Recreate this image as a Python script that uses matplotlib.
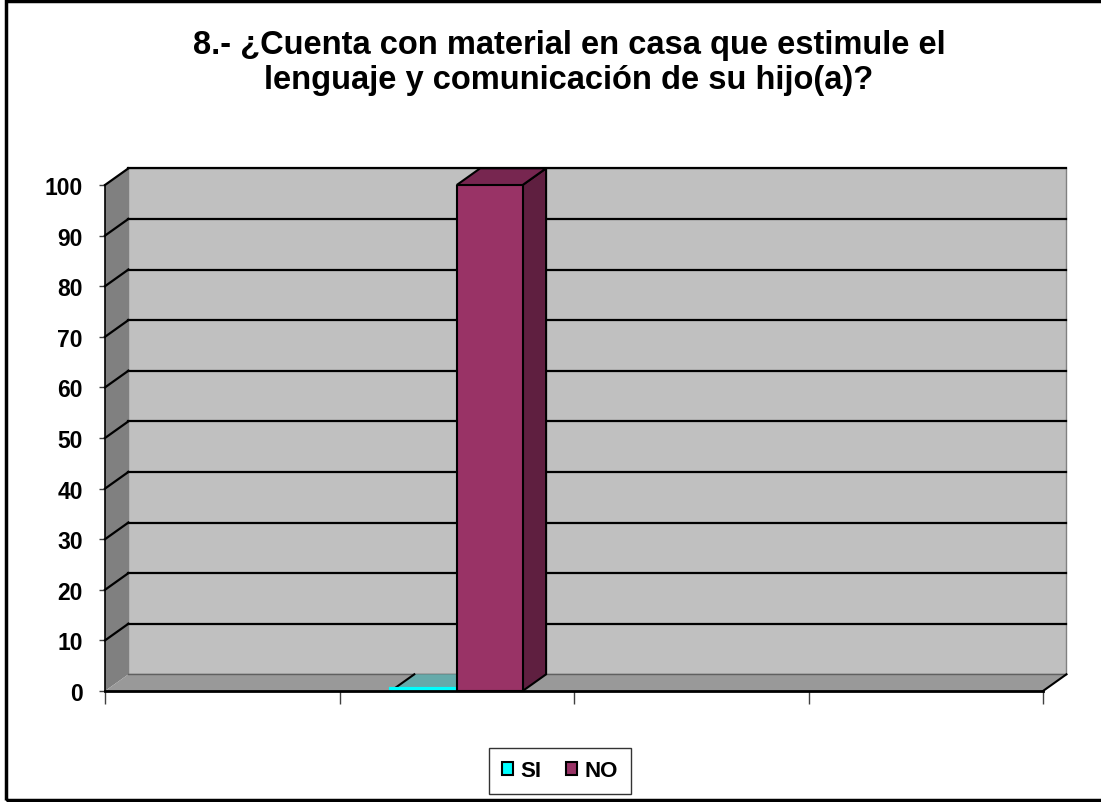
import numpy as np
import matplotlib
matplotlib.use("Agg")
import matplotlib.pyplot as plt
from matplotlib.patches import Polygon, Rectangle

plt.rcParams['font.family'] = ['Liberation Sans', 'DejaVu Sans']

# ---- data ----
categories = ["", "", "", ""]
series_names = ["SI", "NO"]
si_values = [np.nan, 0, np.nan, np.nan]
no_values = [np.nan, 100, np.nan, np.nan]
y_ticks = [0, 10, 20, 30, 40, 50, 60, 70, 80, 90, 100]
title = "8.- ¿Cuenta con material en casa que estimule el\nlenguaje y comunicación de su hijo(a)?"

# ---- style ----
W, H = 1101, 803
fig = plt.figure(figsize=(W / 100, H / 100), dpi=100)
ax = fig.add_axes([105 / W, 1 - 692 / H, (1043 - 105) / W, (692 - 186) / H])
ax.set_xlim(0, len(categories))
ax.set_ylim(0, 100)

DX, DY = 0.1, 3.3          # 3-D depth offset (category units, value units)
XMAX = len(categories)
wall_c, side_c, floor_c = '#c0c0c0', '#808080', '#999999'
colors = {'SI': ('#00ffff', '#66aaaa', '#00a0a0'),
          'NO': ('#993366', '#772650', '#5f1f40')}

# walls and floor
ax.add_patch(Rectangle((DX, DY), XMAX, 100, facecolor=wall_c, edgecolor='#808080',
                       lw=1, zorder=1, clip_on=False))
ax.add_patch(Polygon([(0, 0), (0, 100), (DX, 100 + DY), (DX, DY)], closed=True,
                     facecolor=side_c, edgecolor='none', zorder=1, clip_on=False))
ax.add_patch(Polygon([(0, 0), (XMAX, 0), (XMAX + DX, DY), (DX, DY)], closed=True,
                     facecolor=floor_c, edgecolor='none', zorder=1, clip_on=False))
ax.plot([DX, XMAX + DX], [DY, DY], color='#606060', lw=1, zorder=2, clip_on=False)
ax.plot([XMAX, XMAX + DX], [0, DY], color='black', lw=1.5, zorder=2, clip_on=False)

# gridlines
for v in y_ticks[1:]:
    ax.plot([DX, XMAX + DX], [v + DY, v + DY], color='black', lw=1.6, zorder=2, clip_on=False)
    ax.plot([0, DX], [v, v + DY], color='black', lw=1.6, zorder=2, clip_on=False)

# bars
bw = 0.281
offsets = {'SI': -bw / 2, 'NO': bw / 2}
for name, vals in zip(series_names, [si_values, no_values]):
    front, top, side = colors[name]
    for i, v in enumerate(vals):
        if np.isnan(v):
            continue
        xc = i + 0.5 + offsets[name]
        x0, x1 = xc - bw / 2, xc + bw / 2
        if v > 0:
            ax.bar(xc, v, width=bw, color=front, edgecolor='black', lw=1.5, zorder=4)
            ax.add_patch(Polygon([(x1, 0), (x1, v), (x1 + DX, v + DY), (x1 + DX, DY)],
                                 closed=True, facecolor=side, edgecolor='black', lw=1.5,
                                 zorder=3, clip_on=False))
            ax.add_patch(Polygon([(x0, v), (x1, v), (x1 + DX, v + DY), (x0 + DX, v + DY)],
                                 closed=True, facecolor=top, edgecolor='black', lw=1.5,
                                 zorder=3, clip_on=False))
        else:
            ax.add_patch(Polygon([(x0, v), (x1, v), (x1 + DX, v + DY), (x0 + DX, v + DY)],
                                 closed=True, facecolor=top, edgecolor='none',
                                 zorder=3, clip_on=False))
            ax.plot([x0, x0 + DX], [v, v + DY], color='black', lw=1.5, zorder=3, clip_on=False)
            ax.plot([x0, x1], [v + 0.4, v + 0.4], color=front, lw=3, zorder=3, clip_on=False)

# axes
for s in ['top', 'right']:
    ax.spines[s].set_visible(False)
ax.spines['left'].set_linewidth(1.2)
ax.spines['bottom'].set_linewidth(2)
ax.spines['left'].set_zorder(5)
ax.spines['bottom'].set_zorder(5)
ax.set_yticks(y_ticks)
ax.set_yticklabels([str(t) for t in y_ticks], fontsize=16.5, fontweight='bold')
ax.tick_params(axis='y', direction='out', length=4, width=1, color='#404040', pad=12)
ax.set_xticks(range(len(categories) + 1))
ax.set_xticklabels([""] * (len(categories) + 1))
ax.tick_params(axis='x', direction='out', length=9, width=1, color='#404040')
ax.set_facecolor('none')

# title
fig.text(569 / W, 1 - 63 / H, title, ha='center', va='center', fontsize=23.5,
         fontweight='bold', linespacing=1.2)

# legend
handles = [Rectangle((0, 0), 1, 1, facecolor=colors[n][0], edgecolor='black', lw=1.5)
           for n in series_names]
leg = fig.legend(handles, series_names, loc='center', bbox_to_anchor=(560 / W, 1 - 772 / H),
                 ncol=2, frameon=True, fancybox=False, edgecolor='black',
                 prop={'weight': 'bold', 'size': 16}, handlelength=0.5, handleheight=0.5,
                 handletextpad=0.35, columnspacing=1.1, borderpad=0.55, borderaxespad=0)
leg.get_frame().set_linewidth(1)

# chart border
fig.add_artist(Rectangle((6 / W, 2 / H), 1.2, 1 - 4 / H, transform=fig.transFigure,
                         facecolor='none', edgecolor='black', lw=2.5))

fig.savefig('out.png', dpi=100)
